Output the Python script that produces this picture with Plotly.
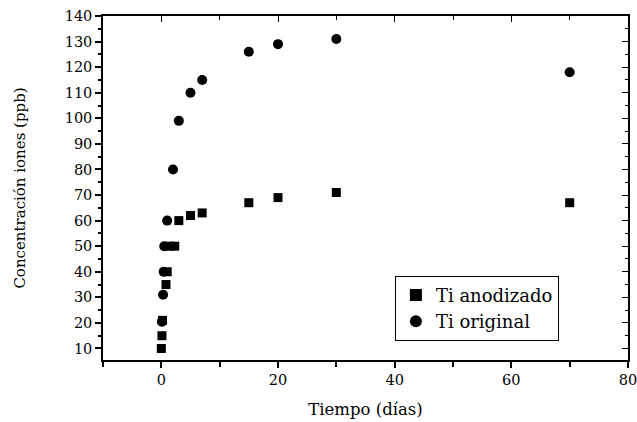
import plotly.graph_objects as go

# Ti anodizado (squares)
anod_x = [0, 0.1, 0.2, 0.8, 1.0, 1.5, 2.3, 3, 5, 7, 15, 20, 30, 70]
anod_y = [10, 15, 21, 35, 40, 50, 50, 60, 62, 63, 67, 69, 71, 67]
# Ti original (circles)
orig_x = [0.1, 0.3, 0.4, 0.5, 1, 2, 3, 5, 7, 15, 20, 30, 70]
orig_y = [20.5, 31, 40, 50, 60, 80, 99, 110, 115, 126, 129, 131, 118]

x_ticks = [0, 20, 40, 60, 80]
y_ticks = [10, 20, 30, 40, 50, 60, 70, 80, 90, 100, 110, 120, 130, 140]

FONT = "DejaVu Serif"

fig = go.Figure()
fig.add_trace(go.Scatter(x=anod_x, y=anod_y, mode="markers", name="Ti anodizado",
                         marker=dict(symbol="square", size=9, color="black")))
fig.add_trace(go.Scatter(x=orig_x, y=orig_y, mode="markers", name="Ti original",
                         marker=dict(symbol="circle", size=10, color="black")))
# invisible copy to activate the mirrored (top/right) axes
fig.add_trace(go.Scatter(x=anod_x, y=anod_y, xaxis="x2", yaxis="y2", mode="markers",
                         marker=dict(opacity=0), showlegend=False, hoverinfo="skip"))

fig.update_layout(
    width=637, height=422,
    paper_bgcolor="white", plot_bgcolor="white",
    margin=dict(l=103, r=9, t=16, b=62),
    font=dict(family=FONT, size=15, color="black"),
    showlegend=True,
    legend=dict(x=0.556, y=0.245, xanchor="left", yanchor="top",
                bordercolor="black", borderwidth=1, bgcolor="white",
                font=dict(family=FONT, size=18), itemsizing="constant"),
    xaxis=dict(range=[-10, 80], tickvals=x_ticks, ticks="outside", ticklen=6,
               tickwidth=1.5, tickcolor="black", showline=True, linecolor="black",
               linewidth=1.5, mirror=True, showgrid=False, zeroline=False, automargin=False,
               ticklabeloverflow="allow",
               minor=dict(dtick=10, tick0=0, ticks="outside", ticklen=5, tickcolor="black"),
               title=dict(text="Tiempo (días)", font=dict(family=FONT, size=16.5), standoff=16),
               tickfont=dict(family=FONT, size=14.5)),
    yaxis=dict(range=[5.5, 140], tickvals=y_ticks, ticks="outside", ticklen=6,
               tickwidth=1.5, tickcolor="black", showline=True, linecolor="black",
               linewidth=1.5, mirror=True, showgrid=False, zeroline=False, automargin=False,
               minor=dict(dtick=5, tick0=0, ticks="outside", ticklen=3, tickcolor="black"),
               title=dict(text="Concentración iones (ppb)", font=dict(family=FONT, size=15), standoff=35),
               tickfont=dict(family=FONT, size=14.5)),
    xaxis2=dict(overlaying="x", side="top", anchor="y", range=[-10, 80], tickvals=x_ticks,
                ticks="inside", ticklen=6, tickcolor="black", showticklabels=False,
                showline=False, showgrid=False, zeroline=False,
                automargin=False,
                minor=dict(dtick=10, tick0=0, ticks="inside", ticklen=4, tickcolor="black")),
    yaxis2=dict(overlaying="y", side="right", anchor="x", range=[5.5, 140], tickvals=y_ticks,
                ticks="inside", ticklen=6, tickcolor="black", showticklabels=False,
                showline=False, showgrid=False, zeroline=False,
                automargin=False,
                minor=dict(dtick=5, tick0=0, ticks="inside", ticklen=3, tickcolor="black")),
)

fig.write_html("out.html", config={"displayModeBar": False},
               post_script="document.body.style.margin='0';document.body.style.padding='0';")
